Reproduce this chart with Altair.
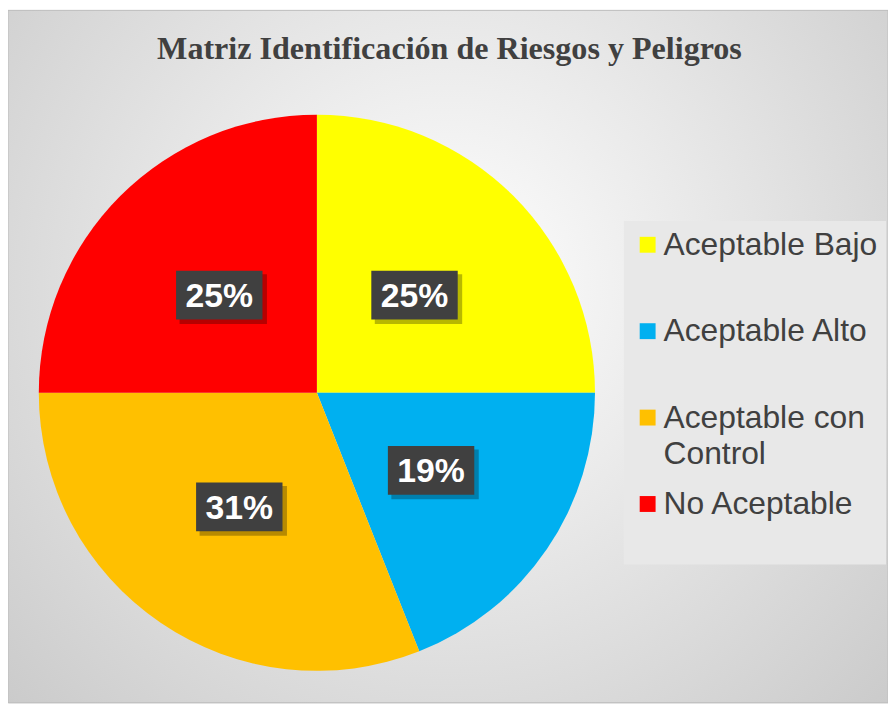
import altair as alt
import pandas as pd

# ---- data ----
categories = ["Aceptable Bajo", "Aceptable Alto", "Aceptable con Control", "No Aceptable"]
values = [25, 19, 31, 25]
colors = ["#FFFF00", "#00B0F0", "#FFC000", "#FF0000"]
title_text = ["Matriz Identificación de Riesgos y Peligros"]

W, H = 886, 697
CX, CY, R, LR = 311, 385, 280, 139

df = pd.DataFrame({"cat": categories, "value": values, "idx": list(range(len(categories)))})

bg = alt.Chart(pd.DataFrame({"k": [0]})).mark_rect(
    fill={
        "gradient": "radial",
        "x1": 0.5, "y1": 0.42, "r1": 0.0,
        "x2": 0.5, "y2": 0.42, "r2": 0.78,
        "stops": [
            {"offset": 0, "color": "#ffffff"},
            {"offset": 1, "color": "#c4c4c4"},
        ],
    },
    stroke="#bdbdbd",
    strokeWidth=1,
).encode(x=alt.value(0), x2=alt.value(W), y=alt.value(0), y2=alt.value(H))

title = alt.Chart(pd.DataFrame({"t": title_text})).mark_text(
    font="Liberation Serif", fontSize=32.3, fontWeight="bold", color="#404040",
    align="center", baseline="alphabetic",
).encode(x=alt.value(444.5), y=alt.value(49), text="t:N")

base = alt.Chart(df)

pie = base.mark_arc(radius=R, strokeWidth=0).encode(
    x=alt.value(CX), y=alt.value(CY),
    theta=alt.Theta("value:Q", stack=True),
    order=alt.Order("idx:Q"),
    color=alt.Color(
        "cat:N",
        scale=alt.Scale(domain=categories, range=colors),
        sort=categories,
        legend=alt.Legend(
            title=None,
            orient="none",
            legendX=620,
            legendY=212,
            fillColor="#e8e8e8",
            padding=8,
            symbolType="square",
            symbolSize=256,
            symbolStrokeWidth=0,
            labelFont="Liberation Sans",
            labelFontSize=32,
            labelColor="#404040",
            labelOffset=0,
            labelLimit=400,
            rowPadding=18,
            labelExpr="datum.label == 'Aceptable con Control' ? ['Aceptable con', 'Control'] : [datum.label, '']",
        ),
    ),
)

lab = base.transform_joinaggregate(total="sum(value)").transform_window(
    cum="sum(value)", sort=[alt.SortField("idx")], frame=[None, 0]
).transform_calculate(
    mid="(datum.cum - datum.value/2) / datum.total * 2 * PI",
    lx=f"{CX} + {LR} * sin(datum.mid)",
    ly=f"{CY} - {LR} * cos(datum.mid)",
    pct="format(datum.value / datum.total, '.0%')",
).transform_calculate(
    bx1="datum.lx - 43.5", bx2="datum.lx + 43.5", by1="datum.ly - 24.5", by2="datum.ly + 24.5",
    sx1="datum.lx - 40", sx2="datum.lx + 48", sy1="datum.ly - 21", sy2="datum.ly + 29",
)

shadow = lab.mark_rect(color="#000000", opacity=0.28).encode(
    x=alt.X("sx1:Q", scale=None), x2="sx2:Q",
    y=alt.Y("sy1:Q", scale=None), y2="sy2:Q",
)
box = lab.mark_rect(color="#404040").encode(
    x=alt.X("bx1:Q", scale=None), x2="bx2:Q",
    y=alt.Y("by1:Q", scale=None), y2="by2:Q",
)
txt = lab.mark_text(
    font="Liberation Sans", fontSize=34, fontWeight="bold", color="#ffffff",
    align="center", baseline="middle", dy=2,
).encode(
    x=alt.X("lx:Q", scale=None), y=alt.Y("ly:Q", scale=None), text="pct:N"
)

chart = alt.layer(bg, title, pie, shadow, box, txt).properties(
    width=W, height=H, padding=0, autosize=alt.AutoSizeParams(type="none")
).configure_view(strokeWidth=0).configure(
    style={"guide-label": {"lineHeight": 37}}
)

chart.save("out.html", embed_options={"renderer": "svg", "actions": False})
